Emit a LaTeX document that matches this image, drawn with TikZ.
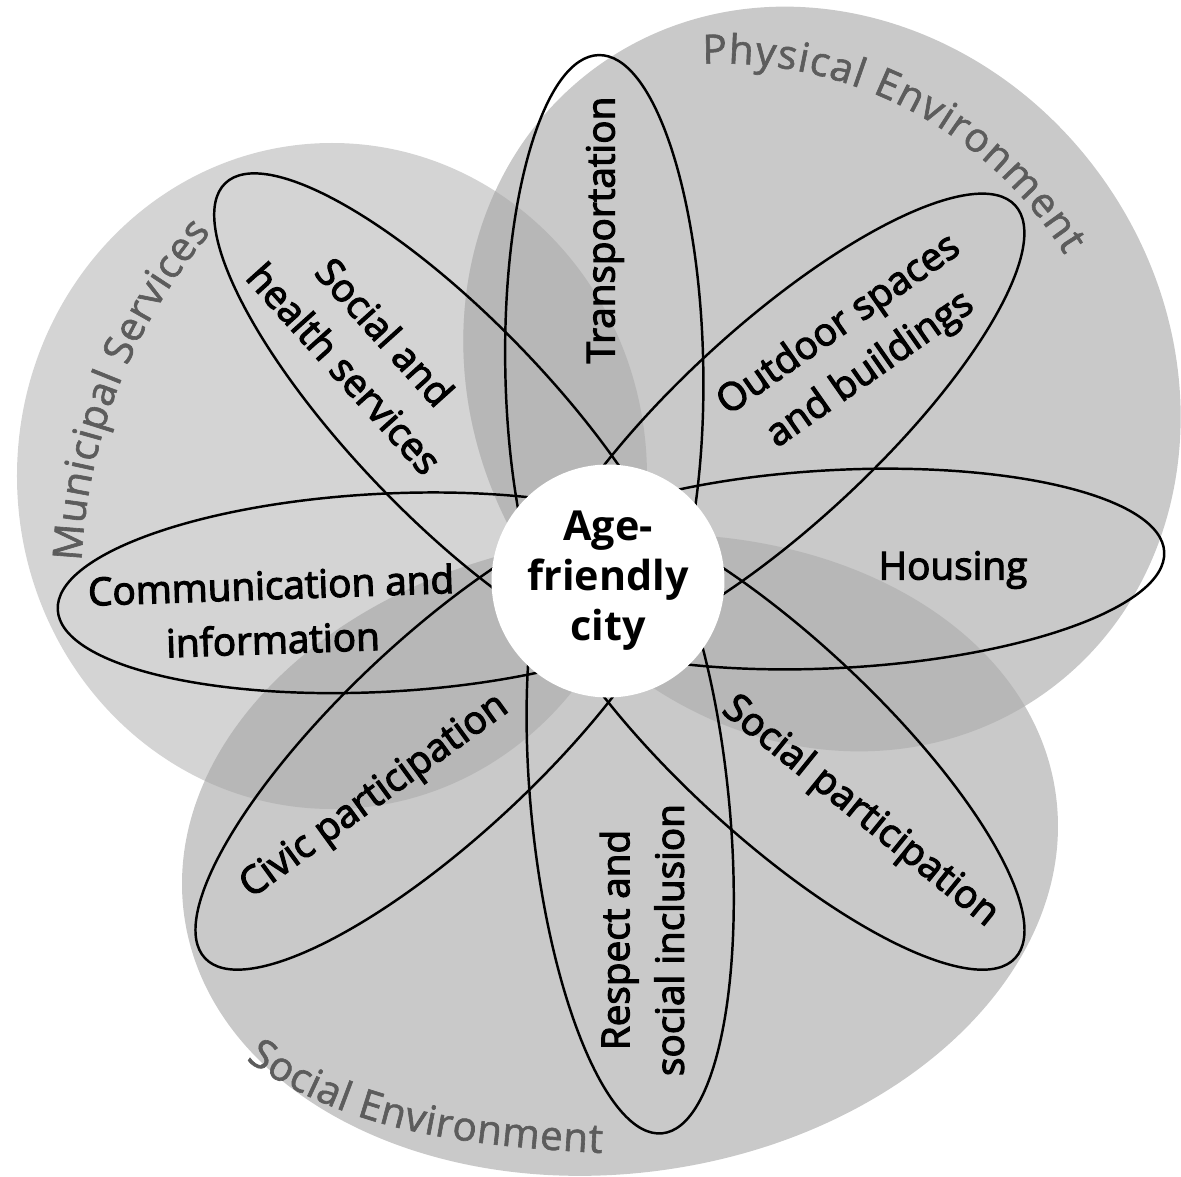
\documentclass[tikz,border=0pt]{standalone}
\usepackage{fontspec}
\setmainfont{Open Sans}
\newfontfamily\petalfont{Open Sans}[FakeBold=3]
\newfontfamily\ringfont{Open Sans}[FakeBold=1.5]
\usetikzlibrary{calc, decorations.text}
\definecolor{ringtext}{gray}{0.36}
\tikzset{
munfill/.style={fill={rgb,255:red,212;green,212;blue,212}},
domfill/.style={fill={rgb,255:red,201;green,201;blue,201}},
overlap/.style={fill={rgb,255:red,183;green,183;blue,183}},
triple/.style={fill={rgb,255:red,166;green,166;blue,166}},
phys/.style={rotate around={125:(214,202)}},
soc/.style={rotate around={8:(12,-274)}},
petal/.style={draw=black, line width=1.4pt},
petal label/.style={font=\petalfont\fontsize{22}{31}\selectfont, align=center, inner sep=0pt},
hub/.style={circle, fill=white, minimum size=4.66cm, inner sep=0pt, align=center,
  font=\bfseries\fontsize{23.5}{28.5}\selectfont},
ring label/.style={decorate, decoration={text along path, text align=fit to path,
  text color=ringtext, text={|\ringfont\fontsize{23}{26}\selectfont|#1}}},
}
\newcommand\physpath{(214,202) ellipse [x radius=385, y radius=345]}
\newcommand\munpath{(-276,105) ellipse [x radius=315, y radius=333]}
\newcommand\socpath{(12,-274) ellipse [x radius=440, y radius=318]}

\begin{document}
\begin{tikzpicture}[x=0.02cm, y=0.02cm]
  \useasboundingbox (-608,-596) rectangle (573,581);

  % domains and their overlaps
  \fill[munfill] \munpath;
  \fill[domfill, phys] \physpath;
  \fill[domfill, soc] \socpath;
  \begin{scope}
    \clip[phys] \physpath;
    \fill[overlap] \munpath;
    \fill[overlap, soc] \socpath;
    \clip[soc] \socpath;
    \fill[triple] \munpath;
  \end{scope}
  \begin{scope}
    \clip \munpath;
    \fill[overlap, soc] \socpath;
  \end{scope}

  % petals
  \foreach \ang/\len in {91/526, 42.7/554, 3/557, -42.8/555, -84.4/555, -136.9/552, 183/551, 133.9/552}
    \draw[petal, rotate=\ang] ({(\len-100)/2},0) ellipse [x radius={(\len+100)/2}, y radius=99];

  \node[hub] (city) at (0,0) {Age-\\friendly\\city};

  \node[petal label, rotate=90] (transport) at (-3,351) {Transportation};
  \node[petal label, rotate=35] (outdoor) at (247,233) {Outdoor spaces\\and buildings};
  \node[petal label] (housing) at (345,11) {Housing};
  \node[petal label, rotate=-39] (socpart) at (252,-231) {Social participation};
  \node[petal label, rotate=90] (respect) at (34,-359) {Respect and\\social inclusion};
  \node[petal label, rotate=36] (civic) at (-233,-216) {Civic participation};
  \node[petal label, rotate=2] (comm) at (-336,-31) {Communication and\\information};
  \node[petal label, rotate=-48] (health) at (-243,231) {Social and\\health services};

  % domain names
  \coordinate (physarc) at (113,113);
  \coordinate (munarc) at (16,-4);
  \path[ring label={Physical Environment}] ($(physarc)+(92.6:404.5)$) arc [start angle=92.6, end angle=31.8, radius=404.5];
  \path[ring label={Municipal Services}] ($(munarc)+(177.5:543)$) arc [start angle=177.5, end angle=139.5, radius=543];
  \path[ring label={Social Environment}] (-362,-479) .. controls (-258,-553) and (-134,-565) .. (-6,-572);
\end{tikzpicture}
\end{document}
